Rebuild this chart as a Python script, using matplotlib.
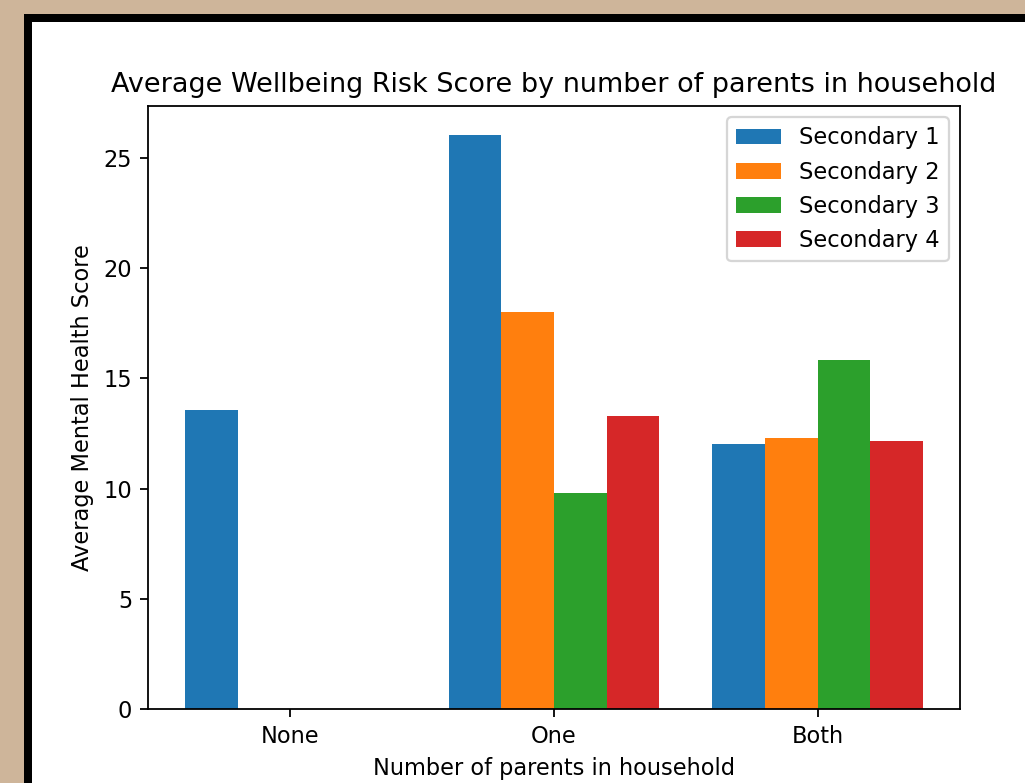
import matplotlib
matplotlib.use("Agg")
import matplotlib.pyplot as plt
import numpy as np
from matplotlib.patches import Rectangle

# data
groups = ["None", "One", "Both"]
series = ["Secondary 1", "Secondary 2", "Secondary 3", "Secondary 4"]
sec1 = [13.55, 26.05, 12.0]
sec2 = [0, 18.0, 12.3]
sec3 = [0, 9.8, 15.85]
sec4 = [0, 13.3, 12.15]
values = [sec1, sec2, sec3, sec4]

W, H = 1025, 783
dpi = 162
fig = plt.figure(figsize=(W / dpi, H / dpi), dpi=dpi, facecolor="#ceb59a")

# screenshot frame: black border and white canvas
fig.patches.append(Rectangle((24 / W, 0), 1, 1 - 14 / H, transform=fig.transFigure,
                             facecolor="black", edgecolor="none", zorder=-2))
fig.patches.append(Rectangle((32 / W, 0), 1, 1 - 22 / H, transform=fig.transFigure,
                             facecolor="white", edgecolor="none", zorder=-1))

ax = fig.add_axes([148 / W, (H - 709) / H, 812 / W, 603 / H])

x = np.arange(len(groups))
width = 0.2
for i, (name, vals) in enumerate(zip(series, values)):
    ax.bar(x + (i - 1.5) * width, vals, width, label=name)

ax.set_xticks(x)
ax.set_xticklabels(groups)
ax.set_xlabel("Number of parents in household")
ax.set_ylabel("Average Mental Health Score")
ax.set_title("Average Wellbeing Risk Score by number of parents in household")
ax.legend(loc="upper right")

fig.savefig("out.png", dpi=dpi, facecolor=fig.get_facecolor())
